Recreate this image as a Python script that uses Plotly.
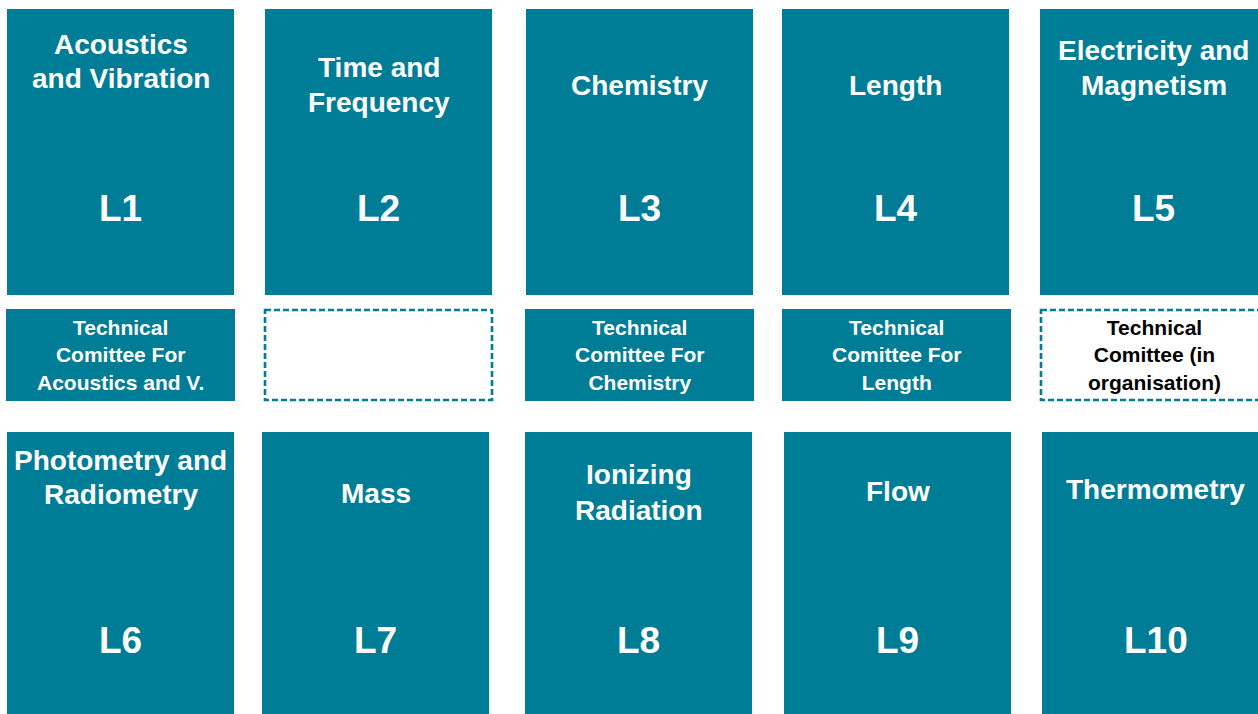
import plotly.graph_objects as go

# ---- data ----
top_titles = ["Acoustics\nand Vibration", "Time and\nFrequency", "Chemistry", "Length",
              "Electricity and\nMagnetism"]
top_codes = ["L1", "L2", "L3", "L4", "L5"]
committees = ["Technical\nComittee For\nAcoustics and V.", "", "Technical\nComittee For\nChemistry",
              "Technical\nComittee For\nLength", "Technical\nComittee (in\norganisation)"]
committee_status = ["active", "none", "active", "active", "organising"]
bottom_titles = ["Photometry and\nRadiometry", "Mass", "Ionizing\nRadiation", "Flow", "Thermometry"]
bottom_codes = ["L6", "L7", "L8", "L9", "L10"]

# ---- layout constants (pixels) ----
W, H = 1258, 714
TEAL = "#007D96"
top_left = [7, 265, 526, 782, 1040]
mid_left = [6, 264, 525, 782, 1040]
bot_left = [7, 262, 525, 784, 1042]
BOX_W = 227
MID_W = 229
top_y = (9, 295)
mid_y = (309, 401)
bot_y = (432, 720)
top_title_y = [[44, 78], [67, 102], [85], [85], [50, 85]]
bot_title_y = [[460, 494], [493], [474, 510], [491], [489]]
top_code_y = 208
bot_code_y = 640

FONT = "Liberation Sans, Arial, sans-serif"

fig = go.Figure()
shapes = []
annotations = []


def add_box(x0, y0, x1, y1, filled=True, dashed=False):
    shapes.append(dict(
        type="rect", xref="x", yref="y", x0=x0, x1=x1, y0=y0, y1=y1,
        fillcolor=TEAL if filled else "white",
        line=dict(color=TEAL, width=2.6 if dashed else 0, dash="6px,3px" if dashed else "solid"),
        layer="below"))


def add_text(x, y, text, size, color="white"):
    annotations.append(dict(
        x=x, y=y, xref="x", yref="y", text=text, showarrow=False,
        xanchor="center", yanchor="middle",
        font=dict(family=FONT, size=size, color=color, weight="bold")))


for i in range(5):
    # top row
    x0 = top_left[i]
    add_box(x0, top_y[0], x0 + BOX_W, top_y[1])
    cx = x0 + BOX_W / 2
    for line, yy in zip(top_titles[i].split("\n"), top_title_y[i]):
        add_text(cx, yy, line, 28)
    add_text(cx, top_code_y, top_codes[i], 37)

    # committee row
    m0 = mid_left[i]
    st = committee_status[i]
    if st == "active":
        add_box(m0, mid_y[0], m0 + MID_W, mid_y[1])
        color = "white"
    else:
        add_box(m0 + 1, mid_y[0] + 1, m0 + MID_W - 1, mid_y[1] - 1, filled=False, dashed=True)
        color = "black"
    if committees[i]:
        add_text(m0 + MID_W / 2, (mid_y[0] + mid_y[1]) / 2, committees[i].replace("\n", "<br>"), 21, color)

    # bottom row
    b0 = bot_left[i]
    add_box(b0, bot_y[0], b0 + BOX_W, bot_y[1])
    bx = b0 + BOX_W / 2
    for line, yy in zip(bottom_titles[i].split("\n"), bot_title_y[i]):
        add_text(bx, yy, line, 28)
    add_text(bx, bot_code_y, bottom_codes[i], 37)

fig.update_layout(
    width=W, height=H,
    margin=dict(l=0, r=0, t=0, b=0),
    paper_bgcolor="white", plot_bgcolor="white",
    xaxis=dict(range=[0, W], visible=False, fixedrange=True),
    yaxis=dict(range=[H, 0], visible=False, fixedrange=True),
    shapes=shapes, annotations=annotations,
    showlegend=False,
)

fig.write_html(
    "out.html",
    config={"displayModeBar": False},
    post_script="document.body.style.margin='0';document.body.style.padding='0';"
                "document.body.style.overflow='hidden';",
)
